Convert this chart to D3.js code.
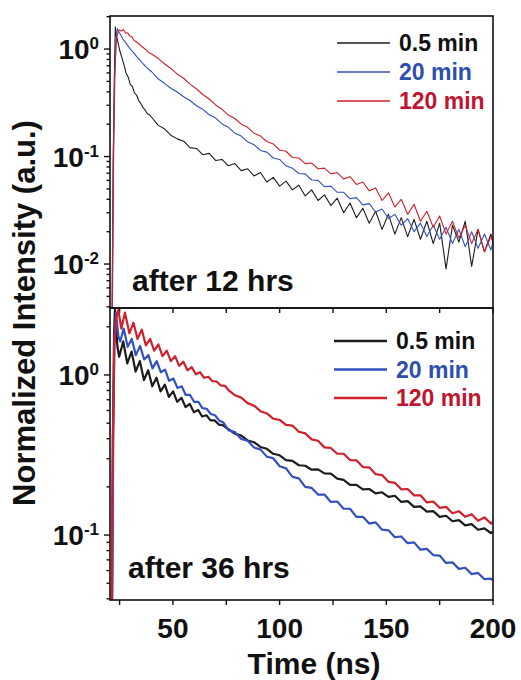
<!DOCTYPE html>
<html>
<head>
<meta charset="utf-8">
<script src="https://cdnjs.cloudflare.com/ajax/libs/d3/7.8.5/d3.min.js"></script>
<style>
	body { margin: 0; background: #fff; }
	text { font-family: "Liberation Sans", Arial, sans-serif; font-weight: bold; }
</style>
</head>
<body>
<script>
// decay traces, two panels sharing the time axis

var w = 521, h = 680;
var plotLeft = 110, plotRight = 493;

var seriesNames = ["0.5 min", "20 min", "120 min"];
var lineColors = ["#1c1c1c", "#3350bd", "#d0202c"];
var textColors = ["#111111", "#2d4fae", "#bf1530"];
var timeTicks = [25, 50, 75, 100, 125, 150, 175, 200];
var timeLabels = [50, 100, 150, 200];
var expLabels12 = [0, -1, -2];
var expLabels36 = [0, -1];
var panelTitles = ["after 12 hrs", "after 36 hrs"];

// after 12 hrs  [time ns, intensity]
var h12_05 = [[21.5,0.003],[22.0,0.08],[22.5,0.5],[23.0,1.6],[23.5,1.3],[24,1.22],[25,0.98],[26,0.84],[27,0.72],[28,0.60],[29,0.55],[30,0.47],[31,0.45],[32,0.39],[33,0.37],[34,0.33],[35,0.31],[36,0.285],[37,0.27],[38,0.25],[39,0.245],
	[40,0.232],[43,0.196],[46,0.181],[49,0.158],[52,0.146],[55,0.139],[58,0.121],[61,0.119],[64,0.104],[67,0.107],[70,0.092],[73,0.094],[76,0.082],[79,0.086],[82,0.074],[85,0.077],[88,0.066],[91,0.071],[94,0.058],[97,0.064],[100,0.053],[103,0.059],[106,0.049],[109,0.054],[112,0.043],[115,0.049],[118,0.039],[121,0.044],[124,0.035],[127,0.041],[130,0.030],[133,0.037],[136,0.027],[139,0.033],[142,0.024],[145,0.031],[148,0.021],[151,0.029],[154,0.019],[157,0.027],[160,0.018],[163,0.026],[166,0.017],[169,0.025],[172,0.0155],[175,0.024],[178,0.009],[181,0.023],[184,0.016],[187,0.025],[190,0.0095],[193,0.021],[196,0.013],[199,0.019],[200,0.016]];
var h12_20 = [[21.6,0.003],[22.2,0.1],[22.8,0.6],[23.5,1.35],[24,1.55],[24.5,1.45],[25.5,1.36],[26.5,1.24],[27.5,1.18],[28.5,1.10],[30,1.0],[31.5,0.93],[33,0.85],[34.5,0.79],[36,0.73],[37.5,0.68],
	[40,0.615],[43,0.53],[46,0.48],[49,0.432],[52,0.398],[55,0.36],[58,0.332],[61,0.297],[64,0.275],[67,0.245],[70,0.228],[73,0.201],[76,0.187],[79,0.165],[82,0.155],[85,0.137],[88,0.129],[91,0.114],[94,0.110],[97,0.097],[100,0.094],[103,0.082],[106,0.078],[109,0.0695],[112,0.069],[115,0.0605],[118,0.060],[121,0.0525],[124,0.053],[127,0.0465],[130,0.0465],[133,0.0405],[136,0.0415],[139,0.0355],[142,0.0365],[145,0.0305],[148,0.0325],[151,0.0265],[154,0.029],[157,0.023],[160,0.0265],[163,0.020],[166,0.024],[169,0.018],[172,0.023],[175,0.017],[178,0.022],[181,0.0155],[184,0.021],[187,0.0145],[190,0.020],[193,0.014],[196,0.019],[199,0.0135],[200,0.016]];
var h12_120 = [[21.4,0.003],[22,0.1],[22.6,0.5],[23.3,1.1],[24,1.38],[24.8,1.5],[25.8,1.47],[26.8,1.52],[27.8,1.40],[28.8,1.42],[29.8,1.32],[30.8,1.30],[31.8,1.20],[32.8,1.17],[34,1.12],[35.5,1.05],[37,1.0],[38.5,0.93],
	[40,0.90],[43,0.82],[46,0.73],[49,0.66],[52,0.585],[55,0.535],[58,0.472],[61,0.427],[64,0.378],[67,0.343],[70,0.302],[73,0.275],[76,0.243],[79,0.226],[82,0.2],[85,0.187],[88,0.165],[91,0.155],[94,0.138],[97,0.131],[100,0.115],[103,0.112],[106,0.098],[109,0.097],[112,0.086],[115,0.087],[118,0.077],[121,0.078],[124,0.069],[127,0.071],[130,0.062],[133,0.065],[136,0.055],[139,0.058],[142,0.048],[145,0.051],[148,0.039],[151,0.046],[154,0.034],[157,0.040],[160,0.029],[163,0.036],[166,0.025],[169,0.031],[172,0.022],[175,0.028],[178,0.019],[181,0.025],[184,0.0175],[187,0.023],[190,0.0155],[193,0.021],[196,0.013],[199,0.018],[200,0.016]];

// after 36 hrs
var h36_05 = [[21.3,0.02],[21.9,0.4],[22.4,1.8],[22.8,2.55],[24.0,1.5],[24.8,1.30],[26.7,1.62],[28.6,1.18],[30.6,1.40],[32.5,1.05],[34.5,1.22],[36.4,0.93],[38.4,1.07],[40.3,0.85],[42.3,0.96],[44.2,0.79],[46.2,0.87],[48.1,0.73],[50.1,0.79],[52.0,0.68],[54.0,0.72],[55.9,0.63],[57.9,0.66],[59.8,0.585],[61.8,0.605],[63.7,0.55],[65.7,0.56],[67.6,0.52],[69.6,0.52],[71.5,0.49],[73.5,0.485],
	[76,0.458],[79,0.43],[82,0.418],[85,0.39],[88,0.38],[91,0.355],[94,0.346],[97,0.322],[100,0.315],[103,0.294],[106,0.291],[109,0.273],[112,0.271],[115,0.256],[118,0.257],[121,0.243],[124,0.242],[127,0.225],[130,0.221],[133,0.206],[136,0.206],[139,0.193],[142,0.194],[145,0.182],[148,0.185],[151,0.173],[154,0.176],[157,0.161],[160,0.163],[163,0.15],[166,0.151],[169,0.14],[172,0.141],[175,0.13],[178,0.132],[181,0.122],[184,0.124],[187,0.115],[190,0.117],[193,0.108],[196,0.11],[199,0.103],[200,0.105]];
var h36_20 = [[21.4,0.02],[22.0,0.4],[22.6,1.7],[23.3,2.45],[24.4,1.75],[25.3,1.62],[26.9,1.95],[28.8,1.50],[30.7,1.68],[32.6,1.33],[34.6,1.52],[36.5,1.25],[38.5,1.33],[40.4,1.10],[42.4,1.22],[44.3,1.04],[46.3,1.08],[48.2,0.92],[50.2,0.95],[52.1,0.83],[54.1,0.85],[56.0,0.75],[58.0,0.75],[59.9,0.68],[61.9,0.68],[63.8,0.62],[65.8,0.615],[67.7,0.57],[69.7,0.56],[71.6,0.52],[73.6,0.505],
	[76,0.452],[79,0.44],[82,0.398],[85,0.388],[88,0.352],[91,0.343],[94,0.309],[97,0.302],[100,0.269],[103,0.261],[106,0.231],[109,0.226],[112,0.2],[115,0.197],[118,0.179],[121,0.179],[124,0.161],[127,0.162],[130,0.146],[133,0.146],[136,0.130],[139,0.130],[142,0.118],[145,0.12],[148,0.108],[151,0.107],[154,0.097],[157,0.098],[160,0.089],[163,0.09],[166,0.081],[169,0.082],[172,0.075],[175,0.0745],[178,0.067],[181,0.0675],[184,0.0615],[187,0.0625],[190,0.057],[193,0.058],[196,0.053],[199,0.0535],[200,0.052]];
var h36_120 = [[21.2,0.02],[21.8,0.4],[22.5,1.5],[23.5,2.3],[24.4,2.55],[25.8,1.95],[27.5,2.45],[29.6,1.82],[31.5,2.12],[33.4,1.68],[35.4,1.92],[37.3,1.53],[39.3,1.68],[41.2,1.42],[43.2,1.55],[45.1,1.31],[47.1,1.42],[49.0,1.22],[51.0,1.31],[52.9,1.14],[54.9,1.21],[56.8,1.07],[58.8,1.12],[60.7,1.01],[62.7,1.04],[64.6,0.96],[66.6,0.975],[68.5,0.915],[70.5,0.91],[72.4,0.86],[74.4,0.855],
	[76,0.805],[79,0.748],[82,0.722],[85,0.667],[88,0.643],[91,0.594],[94,0.575],[97,0.533],[100,0.524],[103,0.488],[106,0.483],[109,0.442],[112,0.432],[115,0.396],[118,0.388],[121,0.353],[124,0.35],[127,0.322],[130,0.322],[133,0.294],[136,0.293],[139,0.266],[142,0.265],[145,0.24],[148,0.237],[151,0.215],[154,0.212],[157,0.193],[160,0.194],[163,0.177],[166,0.177],[169,0.16],[172,0.162],[175,0.148],[178,0.15],[181,0.137],[184,0.141],[187,0.13],[190,0.135],[193,0.123],[196,0.129],[199,0.118],[200,0.121]];

var svg = d3.select("body")
		.append("svg")
		.attr("width", w)
		.attr("height", h);
svg.append("rect").attr("width", w).attr("height", h).attr("fill", "#fff");

var x = d3.scaleLinear().domain([20.5, 200]).range([plotLeft, plotRight]);

function isMajor(d) {
	var l = Math.log10(d);
	return Math.abs(l - Math.round(l)) < 1e-6;
}

function drawPanel(p) {
	var y = d3.scaleLog().domain(p.domain).range([p.bottom, p.top]);
	var g = svg.append("g");

	g.append("clipPath").attr("id", "clip" + p.id)
		.append("rect")
		.attr("x", plotLeft).attr("y", p.top)
		.attr("width", plotRight - plotLeft).attr("height", p.bottom - p.top);

	// y ticks, outward
	var yt = y.ticks().filter(function(d) { return d >= p.domain[0] && d <= p.domain[1]; });
	g.selectAll(".ytick").data(yt).enter().append("line")
		.attr("x1", plotLeft)
		.attr("x2", function(d) { return isMajor(d) ? plotLeft - 6 : plotLeft - 3.5; })
		.attr("y1", function(d) { return y(d); })
		.attr("y2", function(d) { return y(d); })
		.attr("stroke", "#111")
		.attr("stroke-width", 1.4);

	// y labels 10^n
	var lab = g.selectAll(".ylab").data(p.exps).enter().append("text")
		.attr("x", 99)
		.attr("y", function(d) { return y(Math.pow(10, d)) + 10; })
		.attr("text-anchor", "end")
		.attr("font-size", 28)
		.attr("fill", "#111");
	lab.append("tspan").text("10");
	lab.append("tspan").attr("dy", -10).attr("font-size", 17).text(function(d) { return d; });

	// x ticks, outward at the bottom of the panel
	g.selectAll(".xtick").data(timeTicks).enter().append("line")
		.attr("x1", function(d) { return x(d); })
		.attr("x2", function(d) { return x(d); })
		.attr("y1", p.bottom)
		.attr("y2", p.bottom + 5)
		.attr("stroke", "#111")
		.attr("stroke-width", 1.4);

	// traces
	var line = d3.line()
		.x(function(d) { return x(d[0]); })
		.y(function(d) { return y(d[1]); });
	g.append("g").attr("clip-path", "url(#clip" + p.id + ")")
		.selectAll("path").data(p.data).enter().append("path")
		.attr("d", line)
		.attr("fill", "none")
		.attr("stroke", function(d, i) { return lineColors[i]; })
		.attr("stroke-width", p.lw)
		.attr("stroke-linejoin", "round");

	// frame
	g.append("rect")
		.attr("x", plotLeft).attr("y", p.top)
		.attr("width", plotRight - plotLeft).attr("height", p.bottom - p.top)
		.attr("fill", "none")
		.attr("stroke", "#111")
		.attr("stroke-width", 1.6);

	// legend
	var leg = g.selectAll(".leg").data(seriesNames).enter().append("g")
		.attr("transform", function(d, i) { return "translate(0," + (p.legY + i * p.legDy) + ")"; });
	leg.append("line")
		.attr("x1", p.legX).attr("x2", p.legX + 53)
		.attr("y1", 0).attr("y2", 0)
		.attr("stroke", function(d, i) { return lineColors[i]; })
		.attr("stroke-width", p.lw + 0.2);
	leg.append("text")
		.attr("x", p.legX + 62)
		.attr("y", 8)
		.attr("font-size", 23)
		.attr("fill", function(d, i) { return textColors[i]; })
		.text(function(d) { return d; });

	g.append("text")
		.attr("x", p.titleX).attr("y", p.titleY)
		.attr("font-size", 30)
		.attr("fill", "#111")
		.text(p.title);
}

drawPanel({ id: 12, top: 16, bottom: 308, domain: [0.0039, 2.03], exps: expLabels12,
	data: [h12_05, h12_20, h12_120], lw: 1.1,
	legX: 337, legY: 43, legDy: 29, title: panelTitles[0], titleX: 132, titleY: 291 });
drawPanel({ id: 36, top: 308, bottom: 600, domain: [0.0393, 2.62], exps: expLabels36,
	data: [h36_05, h36_20, h36_120], lw: 2.2,
	legX: 334, legY: 341, legDy: 28.5, title: panelTitles[1], titleX: 128, titleY: 578 });

// time labels
svg.selectAll(".xlab").data(timeLabels).enter().append("text")
	.attr("x", function(d) { return x(d); })
	.attr("y", 638)
	.attr("text-anchor", "middle")
	.attr("font-size", 28)
	.attr("fill", "#111")
	.text(function(d) { return d; });

svg.append("text")
	.attr("x", 314).attr("y", 674)
	.attr("text-anchor", "middle")
	.attr("font-size", 30)
	.attr("fill", "#111")
	.text("Time (ns)");

svg.append("text")
	.attr("transform", "translate(35,313) rotate(-90)")
	.attr("text-anchor", "middle")
	.attr("font-size", 31)
	.attr("fill", "#111")
	.text("Normalized Intensity (a.u.)");
</script>
</body>
</html>
